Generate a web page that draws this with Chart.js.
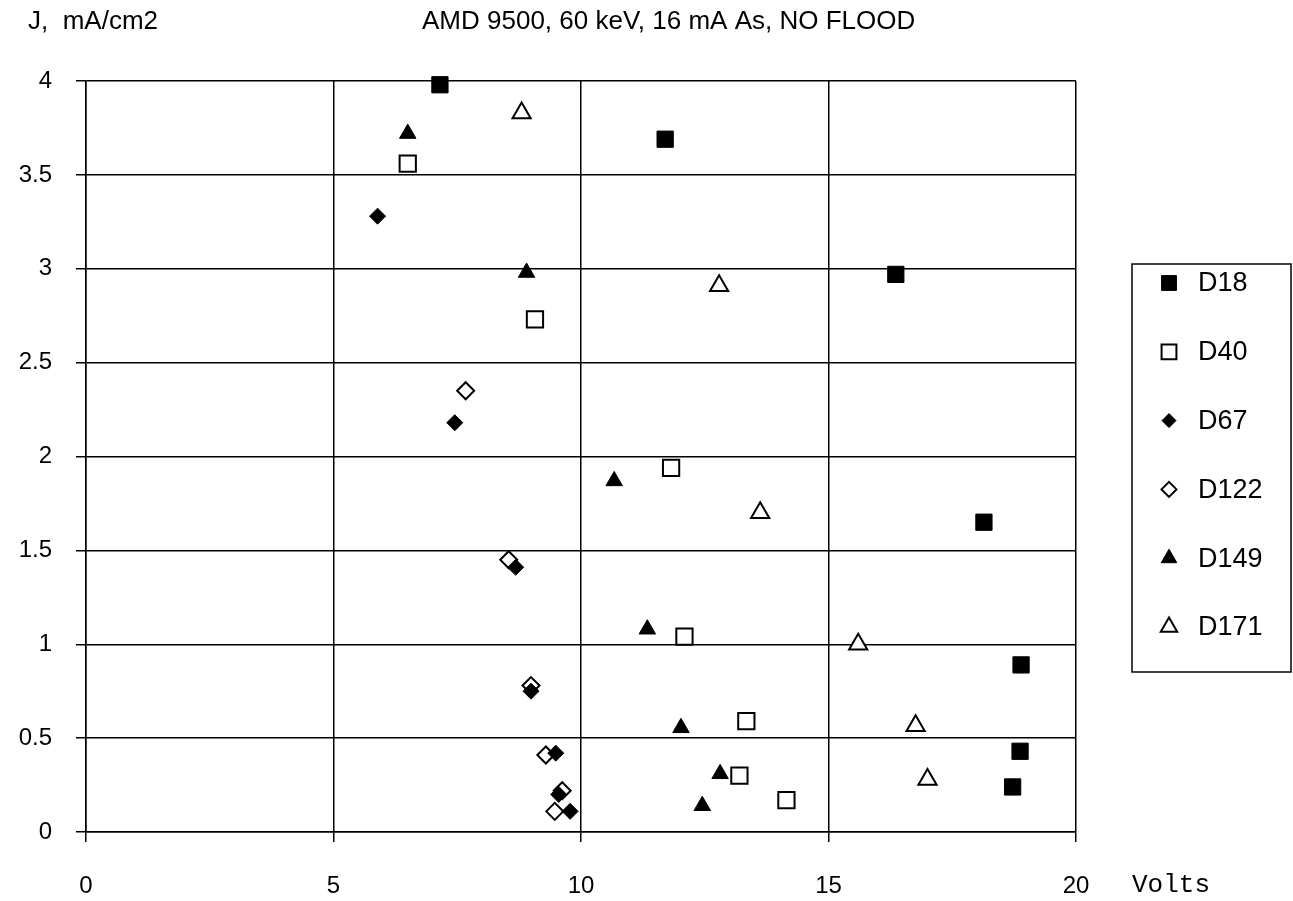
<!DOCTYPE html>
<html>
<head>
<meta charset="utf-8">
<script src="https://cdn.jsdelivr.net/npm/chart.js"></script>
<style>
  html, body { margin: 0; padding: 0; background: #fff; }
</style>
</head>
<body>
<canvas id="jvChart" width="1293" height="901"></canvas>
<script>
// values (Volts, J in mA/cm2)
const seriesNames = ['D18', 'D40', 'D67', 'D122', 'D149', 'D171'];

const d18Volts = [7.15, 11.7, 16.36, 18.14, 18.89, 18.87, 18.72];
const d18J     = [3.98, 3.69, 2.97, 1.65, 0.89, 0.43, 0.24];

const d40Volts = [6.5, 9.07, 11.82, 12.09, 13.34, 13.2, 14.15];
const d40J     = [3.56, 2.73, 1.94, 1.04, 0.59, 0.30, 0.17];

const d67Volts = [5.89, 7.45, 8.68, 8.99, 9.49, 9.55, 9.78];
const d67J     = [3.28, 2.18, 1.41, 0.75, 0.42, 0.20, 0.11];

const d122Volts = [7.67, 8.54, 8.99, 9.29, 9.62, 9.47];
const d122J     = [2.35, 1.45, 0.78, 0.41, 0.22, 0.11];

const d149Volts = [6.5, 8.9, 10.67, 11.34, 12.02, 12.81, 12.45];
const d149J     = [3.72, 2.98, 1.87, 1.08, 0.555, 0.31, 0.14];

const d171Volts = [8.8, 12.79, 13.62, 15.6, 16.76, 17.0];
const d171J     = [3.83, 2.91, 1.70, 1.0, 0.566, 0.28];

const xTicks = [0, 5, 10, 15, 20];
const yTicks = [0, 0.5, 1, 1.5, 2, 2.5, 3, 3.5, 4];

function toPoints(xs, ys) {
    return xs.map((x, i) => ({ x: x, y: ys[i] }));
}

const markerStyles = [
    { pointStyle: 'rect',     fill: '#000', radius: 11.5, border: 1 },
    { pointStyle: 'rect',     fill: '#fff', radius: 11.5, border: 2 },
    { pointStyle: 'rectRot',  fill: '#000', radius: 8,    border: 1 },
    { pointStyle: 'rectRot',  fill: '#fff', radius: 8.5,  border: 2 },
    { pointStyle: 'triangle', fill: '#000', radius: 9.5,  border: 1 },
    { pointStyle: 'triangle', fill: '#fff', radius: 10.5, border: 2 }
];

const allX = [d18Volts, d40Volts, d67Volts, d122Volts, d149Volts, d171Volts];
const allY = [d18J, d40J, d67J, d122J, d149J, d171J];

const datasets = seriesNames.map((name, i) => ({
    label: name,
    data: toPoints(allX[i], allY[i]),
    pointStyle: markerStyles[i].pointStyle,
    pointRadius: markerStyles[i].radius,
    pointHoverRadius: markerStyles[i].radius,
    pointBackgroundColor: markerStyles[i].fill,
    pointBorderColor: '#000',
    pointBorderWidth: markerStyles[i].border,
    showLine: false,
    clip: false
}));

// header texts, "Volts" and the boxed legend on the right
const extrasPlugin = {
    id: 'extras',
    afterDraw(chart) {
        const ctx = chart.ctx;
        ctx.save();
        ctx.fillStyle = '#000';
        ctx.textBaseline = 'middle';
        ctx.textAlign = 'left';
        ctx.font = '26px "Liberation Sans", Arial, sans-serif';
        ctx.fillText('J,  mA/cm2', 28, 22);
        ctx.fillText('AMD 9500, 60 keV, 16 mA As, NO FLOOD', 422, 22);

        ctx.font = '26px "Liberation Mono", "Courier New", monospace';
        ctx.fillText('Volts', 1132, 885);

        // legend box
        ctx.strokeStyle = '#000';
        ctx.lineWidth = 1.5;
        ctx.strokeRect(1132, 264, 159, 408);
        ctx.font = '27px "Liberation Sans", Arial, sans-serif';
        const legendRadius = [10.5, 10.5, 7, 7.5, 9, 9.5];
        seriesNames.forEach((name, i) => {
            const y = 283 + i * 68.8;
            ctx.fillStyle = markerStyles[i].fill;
            ctx.lineWidth = markerStyles[i].border;
            Chart.helpers.drawPoint(ctx, {
                pointStyle: markerStyles[i].pointStyle,
                radius: legendRadius[i],
                rotation: 0,
                borderWidth: markerStyles[i].border
            }, 1169, y);
            ctx.fillStyle = '#000';
            ctx.fillText(name, 1198, y + 1);
        });
        ctx.restore();
    }
};

const ctx = document.getElementById('jvChart').getContext('2d');
new Chart(ctx, {
    type: 'scatter',
    data: { datasets: datasets },
    options: {
        responsive: false,
        animation: false,
        layout: { padding: { top: 81, right: 217, bottom: 0, left: 0 } },
        plugins: {
            legend: { display: false },
            tooltip: { enabled: false }
        },
        scales: {
            x: {
                type: 'linear',
                min: 0,
                max: 20,
                afterBuildTicks: (scale) => { scale.ticks = xTicks.map(v => ({ value: v })); },
                afterFit: (scale) => { scale.height = 69; },
                ticks: {
                    color: '#000',
                    padding: 30,
                    callback: (v) => String(v),
                    font: { family: '"Liberation Sans", Arial, sans-serif', size: 24 }
                },
                grid: { color: '#000', lineWidth: 1.5, tickLength: 10 },
                border: { color: '#000', width: 1.5 }
            },
            y: {
                type: 'linear',
                min: 0,
                max: 4,
                afterBuildTicks: (scale) => { scale.ticks = yTicks.map(v => ({ value: v })); },
                afterFit: (scale) => { scale.width = 86; },
                ticks: {
                    color: '#000',
                    padding: 24,
                    callback: (v) => String(v),
                    font: { family: '"Liberation Sans", Arial, sans-serif', size: 24 }
                },
                grid: { color: '#000', lineWidth: 1.5, tickLength: 10 },
                border: { color: '#000', width: 1.5 }
            }
        }
    },
    plugins: [extrasPlugin]
});
</script>
</body>
</html>
